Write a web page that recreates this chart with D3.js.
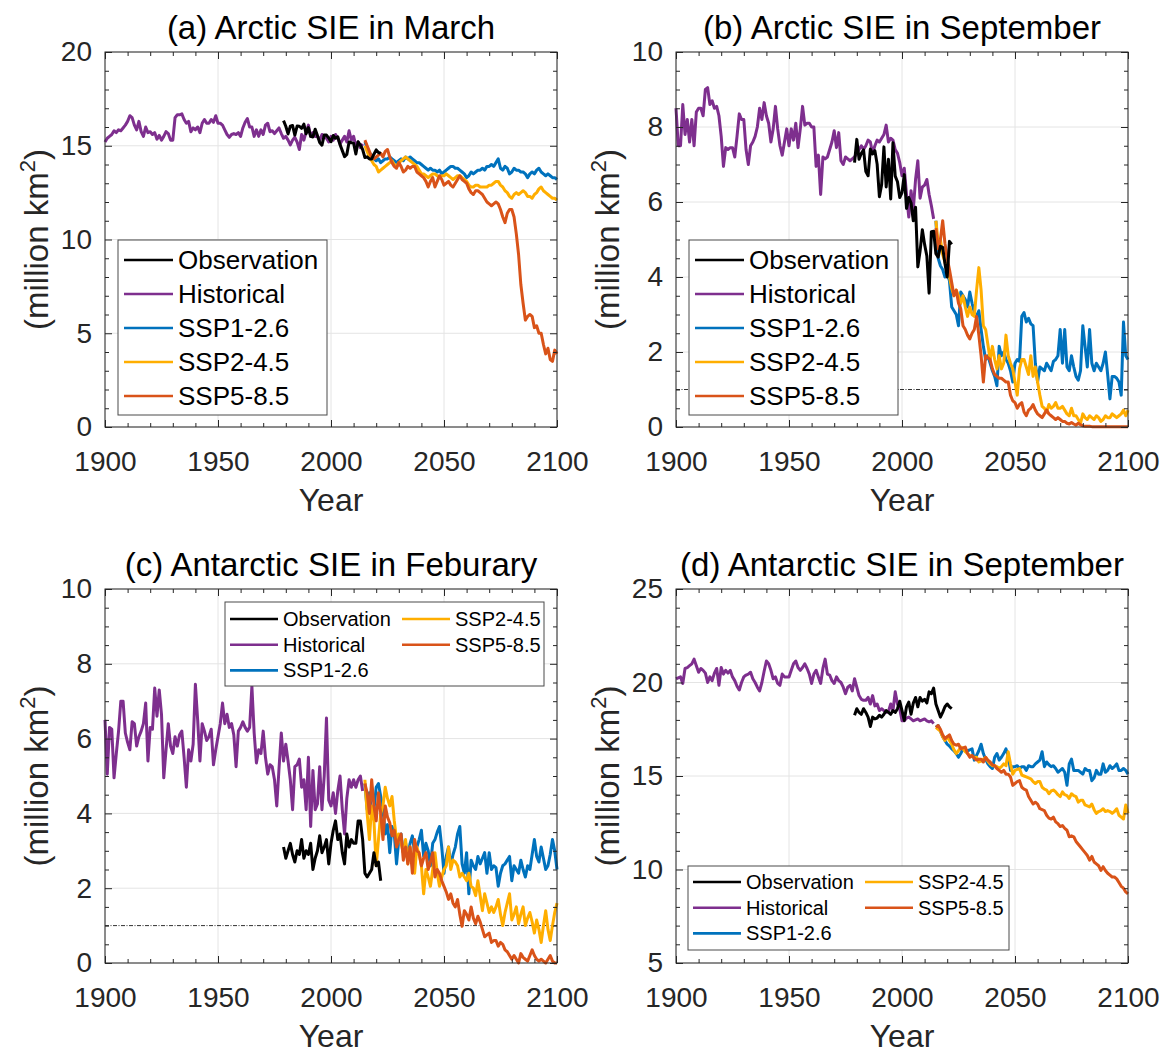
<!DOCTYPE html>
<html><head><meta charset="utf-8">
<script src="https://cdn.jsdelivr.net/npm/d3@7"></script>
<style>
html,body{margin:0;padding:0;background:#fff;}
svg{display:block;font-family:"Liberation Sans",Arial,Helvetica,sans-serif;}
</style></head><body>
<svg id="chart" width="1169" height="1053"></svg>
<script>
// ---------- metadata ----------
const HIST_START = 1900, OBS_START = 1979, SSP_START = 2015;
const seriesNames  = ["Observation","Historical","SSP1-2.6","SSP2-4.5","SSP5-8.5"];
const seriesColors = ["#000000","#7E2F8E","#0072BD","#FFAE00","#D95319"];
const titles = ["(a) Arctic SIE in March","(b) Arctic SIE in September","(c) Antarctic SIE in Feburary","(d) Antarctic SIE in September"];
const xTickValues = [1900,1950,2000,2050,2100];
const yTicksA = [0,5,10,15,20];
const yTicksB = [0,2,4,6,8,10];
const yTicksC = [0,2,4,6,8,10];
const yTicksD = [5,10,15,20,25];
const xLabel = "Year";

// ---------- (a) Arctic March ----------
const aHist = [15.2,15.4,15.5,15.6,15.8,15.7,15.85,15.8,15.95,16.1,
16.3,16.6,16.5,16.1,15.85,16.3,15.75,15.5,16.0,15.7,
15.75,15.6,15.7,15.35,15.55,15.3,15.5,15.75,15.65,15.3,
15.3,16.5,16.65,16.65,16.7,16.4,16.2,16.3,15.75,15.95,
15.85,16.0,15.7,16.2,16.4,16.2,16.2,16.4,16.25,16.6,
16.2,16.2,16.1,15.85,15.6,15.45,15.6,15.65,15.6,15.7,
15.5,15.95,16.25,16.45,16.0,16.0,15.5,15.85,15.5,15.85,
15.6,16.1,16.2,15.75,15.8,15.65,15.8,15.95,15.65,15.4,
15.5,15.3,15.05,15.3,15.45,15.2,14.8,15.6,15.3,15.75,
16.1,15.5,15.7,15.5,15.5,15.3,15.6,15.5,15.4,15.2,
15.5,15.3,15.6,15.4,15.1,15.3,15.5,15.2,15.8,15.3,
15.5,15.0,15.2,14.9,15.1];
const aObs = [16.34,16.04,15.63,16.04,16.08,15.57,16.05,16.04,15.93,16.15,
15.64,15.97,15.50,15.47,15.88,15.54,15.17,15.03,15.57,15.57,
15.41,15.22,15.55,15.40,15.48,15.06,14.74,14.42,14.54,15.20,
15.16,15.14,14.56,15.21,15.04,14.80,14.37,14.41,14.30,14.30,
14.55,14.78,14.64,14.59];
const aSsp126 = [15.2,14.9,14.6,14.5,14.3,14.2,14.3,14.1,14.2,14.3,
14.3,14.4,14.3,14.2,14.1,14.2,14.3,14.2,14.4,14.3,
14.4,14.3,14.2,14.1,14.1,14.0,13.9,13.8,13.7,13.8,
13.7,13.7,13.6,13.7,13.5,13.6,13.7,13.8,13.9,13.9,
13.8,13.8,13.7,13.6,13.5,13.3,13.4,13.6,13.5,13.6,
13.7,13.7,13.8,13.7,13.9,13.9,14.0,13.9,14.1,14.3,
13.8,13.7,13.9,13.8,13.5,13.6,13.8,13.7,13.7,13.6,
13.6,13.5,13.3,13.5,13.6,13.5,13.7,13.8,13.6,13.5,
13.4,13.5,13.4,13.3,13.3,13.2];
const aSsp245 = [15.0,14.7,14.4,14.2,14.0,13.9,13.6,13.7,13.8,13.9,
14.0,14.1,14.2,14.0,13.9,14.1,14.2,14.3,14.4,14.3,
14.2,14.1,14.0,13.9,13.7,13.5,13.5,13.4,13.3,13.4,
13.5,13.5,13.4,13.3,13.4,13.4,13.5,13.4,13.3,13.2,
13.3,13.4,13.4,13.3,13.2,13.1,12.9,12.8,12.8,12.9,
12.9,12.8,12.8,12.8,12.8,12.9,12.9,13.0,13.1,13.1,
12.9,12.8,12.6,12.5,12.3,12.2,12.4,12.5,12.4,12.5,
12.6,12.5,12.3,12.3,12.2,12.4,12.5,12.7,12.8,12.6,
12.5,12.4,12.3,12.2,12.2,12.1];
const aSsp585 = [15.3,15.0,14.7,14.4,14.3,14.4,14.5,14.6,14.4,14.7,
14.8,14.4,14.1,13.9,13.8,14.1,13.9,13.6,13.7,13.9,
13.8,13.9,13.9,13.6,13.5,13.4,13.3,13.1,12.8,13.1,
13.3,12.8,13.1,13.4,13.2,12.9,13.0,13.1,12.9,12.8,
13.0,13.2,13.4,13.2,13.1,13.0,12.7,12.5,12.4,12.6,
12.6,12.5,12.4,12.2,12.0,11.9,11.8,11.9,12.0,11.9,
11.6,11.2,10.9,11.4,11.6,11.6,11.2,10.3,9.2,7.6,
6.6,5.7,5.9,6.0,5.9,5.3,5.4,5.0,5.0,4.4,
3.9,4.2,3.6,3.5,4.1,3.9];

// ---------- (b) Arctic September ----------
const bHist = [8.5,7.5,7.5,8.6,7.8,8.2,7.6,8.2,7.5,8.4,
8.5,8.5,8.3,9.0,9.05,8.6,8.7,8.5,8.55,8.3,
7.75,6.95,7.45,7.4,7.45,7.45,7.2,7.75,8.35,8.2,
8.2,7.4,7.0,7.5,7.6,7.75,8.0,8.5,8.2,8.65,
8.3,8.1,7.6,7.95,8.55,7.95,7.5,7.25,7.6,7.95,
7.5,7.95,7.65,8.1,7.45,7.95,8.55,8.05,8.1,8.1,
8.0,8.0,6.95,7.25,6.2,7.2,7.15,7.2,7.4,7.6,
7.9,7.45,7.85,7.1,7.0,7.2,7.15,7.1,7.15,7.2,
7.3,7.4,7.5,7.4,7.5,7.65,7.6,7.3,7.5,7.65,
7.6,7.7,7.8,8.05,7.6,7.7,7.65,7.4,7.3,7.05,
6.7,6.9,6.2,5.6,6.3,5.8,6.6,7.1,6.1,6.4,
6.45,6.6,6.2,5.9,5.55];
const bObs = [7.05,7.67,7.14,7.30,7.39,6.81,6.70,7.41,7.28,7.37,
7.01,6.14,6.47,7.47,6.40,7.14,6.08,7.58,6.69,6.54,
6.12,6.25,6.73,5.83,6.12,5.98,5.50,5.86,4.27,4.69,
5.26,4.87,4.56,3.57,5.21,5.22,4.62,4.53,4.82,4.79,
4.36,4.00,4.95,4.87];
const bSsp126 = [5.5,4.5,4.3,4.2,4.0,4.1,3.9,3.2,3.1,3.0,
2.7,3.6,3.5,3.4,3.2,3.6,3.3,3.05,2.95,3.1,
2.6,2.15,1.8,1.9,1.7,1.5,1.35,1.1,2.15,1.9,
2.0,1.8,1.7,1.5,1.2,1.7,1.8,1.75,2.95,3.05,
2.8,2.9,2.75,2.7,1.7,1.2,1.6,1.55,1.5,1.7,
1.6,1.5,1.75,1.8,1.9,2.6,1.7,2.6,1.6,1.5,
1.9,1.6,1.35,1.25,1.5,2.7,2.15,1.6,2.6,1.7,
1.5,1.7,1.6,1.5,1.7,2.0,1.4,0.75,1.35,1.35,
1.3,1.2,0.85,2.8,1.9,1.8];
const bSsp245 = [5.5,4.9,5.0,4.6,4.4,4.2,4.0,3.7,3.5,3.65,
3.5,3.3,3.5,3.2,2.95,3.2,3.0,2.95,3.65,4.25,
3.65,2.7,2.6,2.2,1.8,2.15,1.8,1.55,1.9,1.55,
1.7,2.45,1.9,1.7,1.55,1.2,0.85,1.55,1.8,1.8,
1.6,1.4,1.9,1.35,1.6,1.2,0.85,0.55,0.5,0.4,
0.6,0.5,0.55,0.65,0.5,0.5,0.55,0.45,0.35,0.3,
0.5,0.3,0.3,0.2,0.1,0.35,0.25,0.2,0.3,0.25,
0.2,0.3,0.25,0.15,0.2,0.3,0.25,0.25,0.35,0.3,
0.25,0.3,0.35,0.45,0.3,0.45];
const bSsp585 = [5.3,4.75,5.0,5.5,4.9,4.5,4.2,3.85,3.5,3.65,
3.3,3.15,2.7,2.6,2.45,2.35,2.5,2.6,2.95,2.45,
1.9,1.2,1.9,1.85,1.8,1.55,1.4,1.35,1.3,1.3,
1.25,1.2,1.2,0.85,0.7,0.65,0.5,0.6,0.65,0.4,
0.3,0.45,0.5,0.6,0.45,0.35,0.3,0.25,0.35,0.45,
0.35,0.3,0.25,0.2,0.25,0.2,0.15,0.15,0.1,0.08,
0.12,0.08,0.05,0.1,0.06,0.03,0.02,0.02,0.02,0.01,
0.01,0.01,0.01,0.01,0.01,0.01,0.01,0.01,0.01,0.01,
0.01,0.01,0.01,0.01,0.01,0.01];

// ---------- (c) Antarctic February ----------
const cHist = [6.5,5.05,6.3,6.25,4.95,5.6,6.2,7.0,7.0,6.15,
5.9,5.7,6.45,6.4,5.8,6.05,6.2,6.4,6.95,5.4,
6.3,6.25,7.35,6.6,7.3,6.65,4.95,5.7,6.4,5.8,
5.6,6.05,5.8,6.1,6.2,5.5,4.7,5.7,5.4,5.85,
7.45,6.5,5.4,6.4,6.2,5.95,6.05,6.25,5.3,5.7,
6.05,6.4,6.95,6.4,6.65,6.3,6.4,6.1,5.25,6.2,
6.3,6.45,6.3,6.2,6.3,7.4,6.15,5.35,5.7,5.6,
6.2,5.5,5.05,5.3,5.25,4.9,4.2,5.2,6.15,5.4,
5.85,5.4,4.9,4.1,5.25,5.3,5.45,4.7,4.9,4.1,
5.5,3.65,5.15,4.1,4.25,5.25,4.1,5.0,6.55,4.35,
4.2,4.55,4.0,4.6,5.0,4.1,3.45,4.4,4.9,4.7,
4.9,4.7,4.9,5.0,4.6];
const cObs = [3.1,2.8,3.0,3.2,2.9,2.7,3.0,2.9,3.3,2.8,
3.0,2.9,3.2,2.5,2.8,3.0,3.4,2.95,3.1,3.3,
2.65,3.2,3.55,3.8,3.3,3.45,2.95,2.65,3.45,3.1,
3.3,3.2,3.2,3.8,3.8,3.3,2.4,2.3,2.4,2.5,
2.95,2.6,2.7,2.2];
const cSsp126 = [4.8,4.1,4.55,4.0,4.1,4.7,4.8,4.45,4.1,3.45,
3.7,2.95,3.65,3.45,2.65,3.3,3.45,2.95,3.2,2.85,
3.2,3.4,2.95,3.1,3.3,3.55,2.85,3.2,3.0,2.6,
3.2,3.3,3.5,3.65,3.1,2.4,2.85,3.1,2.6,2.9,
3.1,3.45,3.65,2.65,2.4,2.95,1.85,2.75,2.6,2.5,
2.85,2.65,2.8,2.95,2.4,2.95,2.5,2.6,2.55,2.05,
2.4,2.6,2.65,2.75,2.85,2.2,2.6,2.5,2.4,2.75,
2.5,2.3,2.6,2.5,2.9,3.3,2.85,2.7,3.1,2.8,
2.5,2.6,2.9,3.3,3.0,2.5];
const cSsp245 = [4.9,4.0,3.3,4.2,3.8,2.6,3.3,4.0,4.2,4.7,
4.4,4.2,4.45,3.8,3.3,3.45,3.2,2.95,3.3,2.65,
3.1,2.8,2.4,3.1,2.9,2.6,1.85,2.5,2.3,2.05,
2.5,2.95,2.4,2.05,2.3,2.5,2.6,3.1,2.5,2.75,
2.7,2.6,2.3,2.4,2.3,2.2,2.4,2.05,2.0,1.8,
2.2,1.8,1.4,1.85,1.6,1.35,1.5,1.35,1.5,1.7,
1.3,1.0,1.35,1.6,1.85,1.15,1.3,1.5,1.05,1.3,
1.5,1.0,1.2,1.35,1.1,0.8,1.15,0.9,0.55,1.0,
1.4,0.9,0.6,1.0,1.35,1.6];
const cSsp585 = [4.8,4.55,4.0,4.9,4.2,3.8,4.55,4.0,3.3,4.2,
3.9,3.75,3.4,3.55,3.1,3.3,3.45,2.75,3.1,2.65,
3.1,2.4,3.3,3.0,2.95,2.6,2.8,2.95,2.5,2.7,
2.95,2.3,2.5,2.4,2.2,2.05,1.9,1.7,1.85,1.6,
1.5,1.7,1.3,0.98,1.4,1.3,1.15,1.5,1.2,1.05,
1.25,1.1,0.9,0.7,0.75,0.8,0.55,0.6,0.6,0.45,
0.55,0.5,0.35,0.3,0.2,0.1,0.2,0.1,0.0,0.25,
0.15,0.1,0.05,0.2,0.35,0.2,0.1,0.05,0.1,0.05,
0.0,0.1,0.2,0.05,0.0,0.0];

// ---------- (d) Antarctic September ----------
const dHist = [20.2,20.25,20.3,19.95,20.75,20.8,20.9,21.0,21.25,20.9,
20.55,20.75,20.65,20.5,20.0,20.3,20.1,20.5,20.75,19.85,
20.8,20.45,20.65,20.5,20.65,20.3,20.1,19.8,19.6,20.0,
20.3,20.4,20.45,20.55,20.2,20.0,19.75,19.55,20.0,20.6,
21.15,21.0,20.65,20.2,20.3,19.95,19.85,20.45,20.3,20.3,
20.3,20.65,21.0,21.15,20.8,20.65,20.8,21.0,20.75,20.45,
19.95,20.45,20.65,20.3,19.95,20.75,21.25,20.45,20.4,20.1,
19.95,20.3,20.1,20.0,19.75,19.4,19.75,19.85,19.55,20.2,
19.75,19.3,19.1,19.05,19.05,19.2,18.85,19.3,18.75,18.85,
18.5,18.6,18.5,18.4,18.45,18.85,18.5,19.5,18.85,18.6,
17.95,17.95,18.1,18.15,18.05,17.95,18.0,18.05,17.95,18.0,
18.05,17.95,17.9,17.95,17.8];
const dObs = [18.25,18.6,18.4,18.3,18.6,18.4,18.15,17.65,18.15,18.05,
18.1,18.25,18.15,18.3,18.5,18.4,18.3,18.5,18.4,18.6,
19.0,18.5,17.97,18.7,18.95,18.3,18.9,19.2,18.7,19.2,
19.0,19.1,18.9,19.5,19.4,19.7,18.85,18.5,18.15,18.4,
18.7,18.85,18.7,18.6];
const dSsp126 = [17.6,17.7,17.4,17.1,16.9,16.7,16.6,16.45,16.35,16.2,
16.0,16.2,16.45,16.4,16.35,16.4,16.45,15.85,16.1,16.35,
16.7,16.2,15.9,15.65,15.5,15.4,16.0,16.2,15.85,16.0,
16.2,16.45,16.1,15.3,15.5,15.5,15.55,15.4,15.5,15.5,
15.3,15.55,15.5,15.5,15.65,15.75,15.85,16.3,15.5,15.75,
15.6,15.5,15.55,15.4,15.2,15.3,15.4,15.2,14.5,15.65,
15.9,15.3,15.3,15.3,15.2,15.1,15.4,15.3,15.3,14.75,
14.9,15.3,15.1,15.1,15.65,15.2,15.3,15.55,15.4,15.5,
15.65,15.3,15.3,15.4,15.3,15.1];
const dSsp245 = [17.6,17.5,17.4,17.1,16.9,17.1,16.9,16.7,16.4,16.2,
16.35,16.55,16.45,16.3,16.2,16.1,16.05,16.0,16.0,15.75,
15.8,15.9,16.0,15.8,15.65,15.55,15.55,15.5,15.4,15.5,
15.65,15.55,16.3,15.65,15.1,15.3,15.35,15.4,15.05,15.0,
14.95,14.9,14.85,14.7,14.6,14.7,14.7,14.4,14.3,14.25,
14.05,14.2,14.25,14.15,14.0,13.9,14.15,14.0,13.95,13.8,
14.05,13.95,13.9,13.6,13.7,13.7,13.45,13.4,13.35,13.5,
13.2,13.0,13.1,13.15,13.25,13.1,13.15,13.1,13.0,13.1,
13.25,12.9,12.8,12.7,13.45,13.0];
const dSsp585 = [17.6,17.7,17.5,17.2,17.0,17.1,17.2,16.9,16.7,16.65,
16.7,16.45,16.5,16.55,16.2,16.0,16.1,15.95,15.85,15.9,
15.9,15.75,16.0,15.85,15.75,15.6,15.55,15.4,15.3,15.2,
15.3,15.1,15.1,14.95,14.5,14.6,14.7,14.75,14.4,14.3,
14.25,13.9,13.7,13.5,13.6,13.5,13.25,13.2,13.15,12.9,
12.75,12.7,12.8,12.55,12.45,12.3,12.35,12.2,12.1,11.75,
11.8,11.75,11.5,11.35,11.2,11.05,10.9,10.75,10.5,10.7,
10.4,10.3,10.2,9.95,10.15,9.95,9.8,9.7,9.6,9.6,
9.5,9.3,9.1,9.0,8.8,8.7];

// ---------- layout / options ----------
const FONT = '"Liberation Sans",Arial,Helvetica,sans-serif';
const panels = [
  {title:titles[0], yDomain:[0,20], yTicks:yTicksA, yMinorStep:1,
   hist:aHist, obs:aObs, s126:aSsp126, s245:aSsp245, s585:aSsp585, threshold:null,
   box:{x0:105,x1:557,y0:52,y1:427},
   legend:{cols:1, x:118, y:240, w:209, h:175, font:26, rowGap:34, first:20, lineX:6, lineLen:49, textX:60}},
  {title:titles[1], yDomain:[0,10], yTicks:yTicksB, yMinorStep:0.5,
   hist:bHist, obs:bObs, s126:bSsp126, s245:bSsp245, s585:bSsp585, threshold:1,
   box:{x0:676,x1:1128,y0:52,y1:427},
   legend:{cols:1, x:689, y:240, w:209, h:175, font:26, rowGap:34, first:20, lineX:6, lineLen:49, textX:60}},
  {title:titles[2], yDomain:[0,10], yTicks:yTicksC, yMinorStep:0.5,
   hist:cHist, obs:cObs, s126:cSsp126, s245:cSsp245, s585:cSsp585, threshold:1,
   box:{x0:105,x1:557,y0:589,y1:963},
   legend:{cols:2, x:225, y:602, w:319, h:84, font:20, rowGap:25.7, first:17, lineX:5, lineLen:48, textX:58, colW:172}},
  {title:titles[3], yDomain:[5,25], yTicks:yTicksD, yMinorStep:1,
   hist:dHist, obs:dObs, s126:dSsp126, s245:dSsp245, s585:dSsp585, threshold:null,
   box:{x0:676,x1:1128,y0:589,y1:963},
   legend:{cols:2, x:688, y:866, w:321, h:84, font:20, rowGap:25.7, first:16, lineX:5, lineLen:48, textX:58, colW:172}}
];

const svg = d3.select("#chart");

function styleAxis(sel, fontSize){
  sel.attr("font-family", FONT).attr("font-size", fontSize);
  sel.select(".domain").remove();
  sel.selectAll(".tick line").attr("stroke","#262626").attr("stroke-width",1);
  sel.selectAll(".tick text").attr("fill","#262626");
}

function drawPanel(p){
  const {x0,x1,y0,y1} = p.box;
  const x = d3.scaleLinear().domain([1900,2100]).range([x0,x1]);
  const y = d3.scaleLinear().domain(p.yDomain).range([y1,y0]);
  const g = svg.append("g");

  // grid
  g.append("g").selectAll("line").data(xTickValues).join("line")
    .attr("x1",d=>x(d)).attr("x2",d=>x(d)).attr("y1",y0).attr("y2",y1)
    .attr("stroke","#e4e4e4").attr("stroke-width",1);
  g.append("g").selectAll("line").data(p.yTicks).join("line")
    .attr("x1",x0).attr("x2",x1).attr("y1",d=>y(d)).attr("y2",d=>y(d))
    .attr("stroke","#e4e4e4").attr("stroke-width",1);

  // threshold line
  if (p.threshold !== null){
    g.append("line").attr("x1",x(1900)).attr("x2",x(2100))
      .attr("y1",y(p.threshold)).attr("y2",y(p.threshold))
      .attr("stroke","#1a1a1a").attr("stroke-width",0.9)
      .attr("stroke-dasharray","4,1.5,1,1.5");
  }

  // series
  const lineGen = start => d3.line().x((d,i)=>x(start+i)).y(d=>y(d));
  const series = [
    {vals:p.hist, start:HIST_START, color:seriesColors[1]},
    {vals:p.s126, start:SSP_START, color:seriesColors[2]},
    {vals:p.s245, start:SSP_START, color:seriesColors[3]},
    {vals:p.s585, start:SSP_START, color:seriesColors[4]},
    {vals:p.obs,  start:OBS_START, color:seriesColors[0]}
  ];
  g.append("g").selectAll("path").data(series).join("path")
    .attr("d", s => lineGen(s.start)(s.vals))
    .attr("fill","none").attr("stroke",s=>s.color)
    .attr("stroke-width",3).attr("stroke-linejoin","round");

  // frame
  g.append("rect").attr("x",x0).attr("y",y0).attr("width",x1-x0).attr("height",y1-y0)
    .attr("fill","none").attr("stroke","#262626").attr("stroke-width",1);

  // minor tick values
  const xMinor = d3.range(1900, 2101, 10).filter(v => !xTickValues.includes(v));
  const [ylo, yhi] = p.yDomain;
  const yMinor = d3.range(ylo, yhi + 1e-9, p.yMinorStep)
    .filter(v => !p.yTicks.some(t => Math.abs(t - v) < 1e-9));

  // bottom axis (labels)
  const gb = g.append("g").attr("transform",`translate(0,${y1})`)
    .call(d3.axisBottom(x).tickValues(xTickValues).tickFormat(d3.format("d"))
      .tickSizeInner(-7).tickSizeOuter(0).tickPadding(24));
  styleAxis(gb, 28);
  const gbm = g.append("g").attr("transform",`translate(0,${y1})`)
    .call(d3.axisBottom(x).tickValues(xMinor).tickFormat("").tickSizeInner(-4).tickSizeOuter(0));
  styleAxis(gbm, 10);
  // top axis
  const gt = g.append("g").attr("transform",`translate(0,${y0})`)
    .call(d3.axisTop(x).tickValues(xTickValues).tickFormat("").tickSizeInner(-7).tickSizeOuter(0));
  styleAxis(gt, 10);
  const gtm = g.append("g").attr("transform",`translate(0,${y0})`)
    .call(d3.axisTop(x).tickValues(xMinor).tickFormat("").tickSizeInner(-4).tickSizeOuter(0));
  styleAxis(gtm, 10);
  // left axis (labels)
  const gl = g.append("g").attr("transform",`translate(${x0},0)`)
    .call(d3.axisLeft(y).tickValues(p.yTicks).tickFormat(d3.format("d"))
      .tickSizeInner(-7).tickSizeOuter(0).tickPadding(13));
  styleAxis(gl, 28);
  const glm = g.append("g").attr("transform",`translate(${x0},0)`)
    .call(d3.axisLeft(y).tickValues(yMinor).tickFormat("").tickSizeInner(-4).tickSizeOuter(0));
  styleAxis(glm, 10);
  // right axis
  const gr = g.append("g").attr("transform",`translate(${x1},0)`)
    .call(d3.axisRight(y).tickValues(p.yTicks).tickFormat("").tickSizeInner(-7).tickSizeOuter(0));
  styleAxis(gr, 10);
  const grm = g.append("g").attr("transform",`translate(${x1},0)`)
    .call(d3.axisRight(y).tickValues(yMinor).tickFormat("").tickSizeInner(-4).tickSizeOuter(0));
  styleAxis(grm, 10);

  // title
  g.append("text").attr("x",(x0+x1)/2).attr("y",y0-13)
    .attr("text-anchor","middle").attr("font-family",FONT).attr("font-size",33)
    .attr("fill","#000").text(p.title);
  // x label
  g.append("text").attr("x",(x0+x1)/2).attr("y",y1+84)
    .attr("text-anchor","middle").attr("font-family",FONT).attr("font-size",32)
    .attr("fill","#262626").text(xLabel);
  // y label
  const yl = g.append("text")
    .attr("transform",`translate(${x0-57},${(y0+y1)/2}) rotate(-90)`)
    .attr("text-anchor","middle").attr("font-family",FONT).attr("font-size",33)
    .attr("fill","#262626");
  yl.append("tspan").text("(million km");
  yl.append("tspan").attr("dy",-13).attr("font-size",22).text("2");
  yl.append("tspan").attr("dy",13).text(")");

  // legend
  const L = p.legend;
  const lg = g.append("g");
  lg.append("rect").attr("x",L.x).attr("y",L.y).attr("width",L.w).attr("height",L.h)
    .attr("fill","#fff").attr("stroke","#4a4a4a").attr("stroke-width",1);
  const perCol = L.cols === 1 ? seriesNames.length : 3;
  const items = seriesNames.map((name,i)=>({
    name, color:seriesColors[i],
    col: Math.floor(i/perCol), row: i % perCol
  }));
  const it = lg.selectAll("g.item").data(items).join("g").attr("class","item")
    .attr("transform",d=>`translate(${L.x + d.col*(L.colW||0)},${L.y + L.first + d.row*L.rowGap})`);
  it.append("line").attr("x1",L.lineX).attr("x2",L.lineX+L.lineLen).attr("y1",0).attr("y2",0)
    .attr("stroke",d=>d.color).attr("stroke-width",2.6);
  it.append("text").attr("x",L.textX).attr("y",0).attr("dy","0.35em")
    .attr("font-family",FONT).attr("font-size",L.font).attr("fill","#000")
    .text(d=>d.name);
}

panels.forEach(drawPanel);
</script>
</body></html>
